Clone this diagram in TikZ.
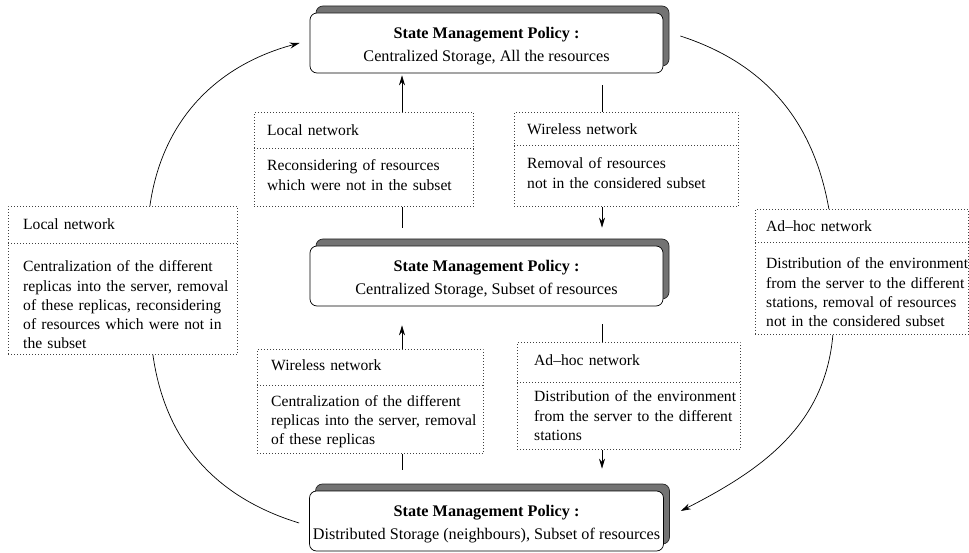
\documentclass[tikz,border=0pt]{standalone}
\usepackage{fontspec}
\setmainfont{Liberation Serif}
\usetikzlibrary{arrows.meta,shadows}

\tikzset{
  policy/.style={draw, fill=white, line width=0.7pt, rounded corners=7pt,
    minimum width=353pt, minimum height=60pt, align=center,
    font=\fontsize{16.2}{23}\selectfont,
    copy shadow={shadow xshift=6pt, shadow yshift=7pt, fill=black!55, draw=black!85}},
  netbox/.style={draw=black!75, line width=0.8pt, dash pattern=on 0.8pt off 2.2pt,
    anchor=north west, inner sep=0pt},
  nettext/.style={anchor=base west, inner sep=0pt, text width=225pt, align=left,
    font=\fontsize{15.6}{19.2}\selectfont},
  link/.style={line width=0.7pt},
}

\begin{document}
\begin{tikzpicture}[x=1pt, y=1pt, >={Stealth[length=10pt,width=6pt]}]
  \useasboundingbox (0,0) rectangle (969,552);

  % policies
  \node[policy] (top) at (486.5,509) {\rule{0pt}{17pt}\textbf{State Management Policy :}\\Centralized Storage, All the resources};
  \node[policy] (mid) at (486.5,276) {\rule{0pt}{17pt}\textbf{State Management Policy :}\\Centralized Storage, Subset of resources};
  \node[policy] (bot) at (486.5,31) {\rule{0pt}{17pt}\textbf{State Management Policy :}\\Distributed Storage (neighbours), Subset of resources};

  % network boxes
  \node[netbox, minimum width=219pt, minimum height=94pt] (ltop) at (254,440) {};
  \node[netbox, minimum width=224pt, minimum height=94pt] (rtop) at (514,440) {};
  \node[netbox, minimum width=229pt, minimum height=148pt] (fleft) at (8,346) {};
  \node[netbox, minimum width=213pt, minimum height=125pt] (fright) at (755,343) {};
  \node[netbox, minimum width=226pt, minimum height=104pt] (lbot) at (257,203) {};
  \node[netbox, minimum width=223pt, minimum height=107pt] (rbot) at (517,210) {};
  \foreach \b/\s in {ltop/36, rtop/33, fleft/37, fright/33, lbot/36, rbot/40}
    \draw[netbox] ([yshift=-\s pt]\b.north west) -- ([yshift=-\s pt]\b.north east);

  \node[nettext] (ltopt) at (267,416) {Local network};
  \node[nettext] (ltopb) at (267,381) {Reconsidering of resources\\which were not in the subset};
  \node[nettext] (rtopt) at (527,417) {Wireless network};
  \node[nettext] (rtopb) at (527,383) {Removal of resources\\not in the considered subset};
  \node[nettext] (fleftt) at (23,322) {Local network};
  \node[nettext] (fleftb) at (23,280) {Centralization of the different\\replicas into the server, removal\\of these replicas, reconsidering\\of resources which were not in\\the subset};
  \node[nettext] (frightt) at (766,320) {Ad--hoc network};
  \node[nettext] (frightb) at (766,283) {Distribution of the environment\\from the server to the different\\stations, removal of resources\\not in the considered subset};
  \node[nettext] (lbott) at (271,181) {Wireless network};
  \node[nettext] (lbotb) at (271,146) {Centralization of the different\\replicas into the server, removal\\of these replicas};
  \node[nettext] (rbott) at (534,186) {Ad--hoc network};
  \node[nettext] (rbotb) at (534,150) {Distribution of the environment\\from the server to the different\\stations};

  % straight links
  \coordinate (lx) at (402,0);
  \coordinate (rx) at (602,0);
  \draw[link,->] (ltop.north -| lx) -- ([yshift=-2pt]top.south -| lx);
  \draw[link] (ltop.south -| lx) -- ([yshift=18pt]mid.north -| lx);
  \draw[link] ([yshift=-12pt]top.south -| rx) -- (rtop.north -| rx);
  \draw[link,->] (rtop.south -| rx) -- ([yshift=18pt]mid.north -| rx);
  \draw[link,->] (lbot.north -| lx) -- ([yshift=-19pt]mid.south -| lx);
  \draw[link] (lbot.south -| lx) -- ([yshift=21pt]bot.north -| lx);
  \draw[link] ([yshift=-18pt]mid.south -| rx) -- (rbot.north -| rx);
  \draw[link,->] (rbot.south -| rx) -- ([yshift=22pt]bot.north -| rx);

  % outer links
  \draw[link,->] ([xshift=27pt]fleft.north) to[out=82,in=195] ([xshift=-10pt]top.west);
  \draw[link] ([shift={(17pt,7pt)}]top.east) to[out=-18,in=100] ([xshift=-33pt]fright.north);
  \draw[link,->] ([xshift=-29pt]fright.south) to[out=265,in=27] ([shift={(17pt,10pt)}]bot.east);
  \draw[link] ([xshift=30pt]fleft.south) to[out=278,in=163] ([shift={(-10pt,-2pt)}]bot.west);
\end{tikzpicture}
\end{document}
